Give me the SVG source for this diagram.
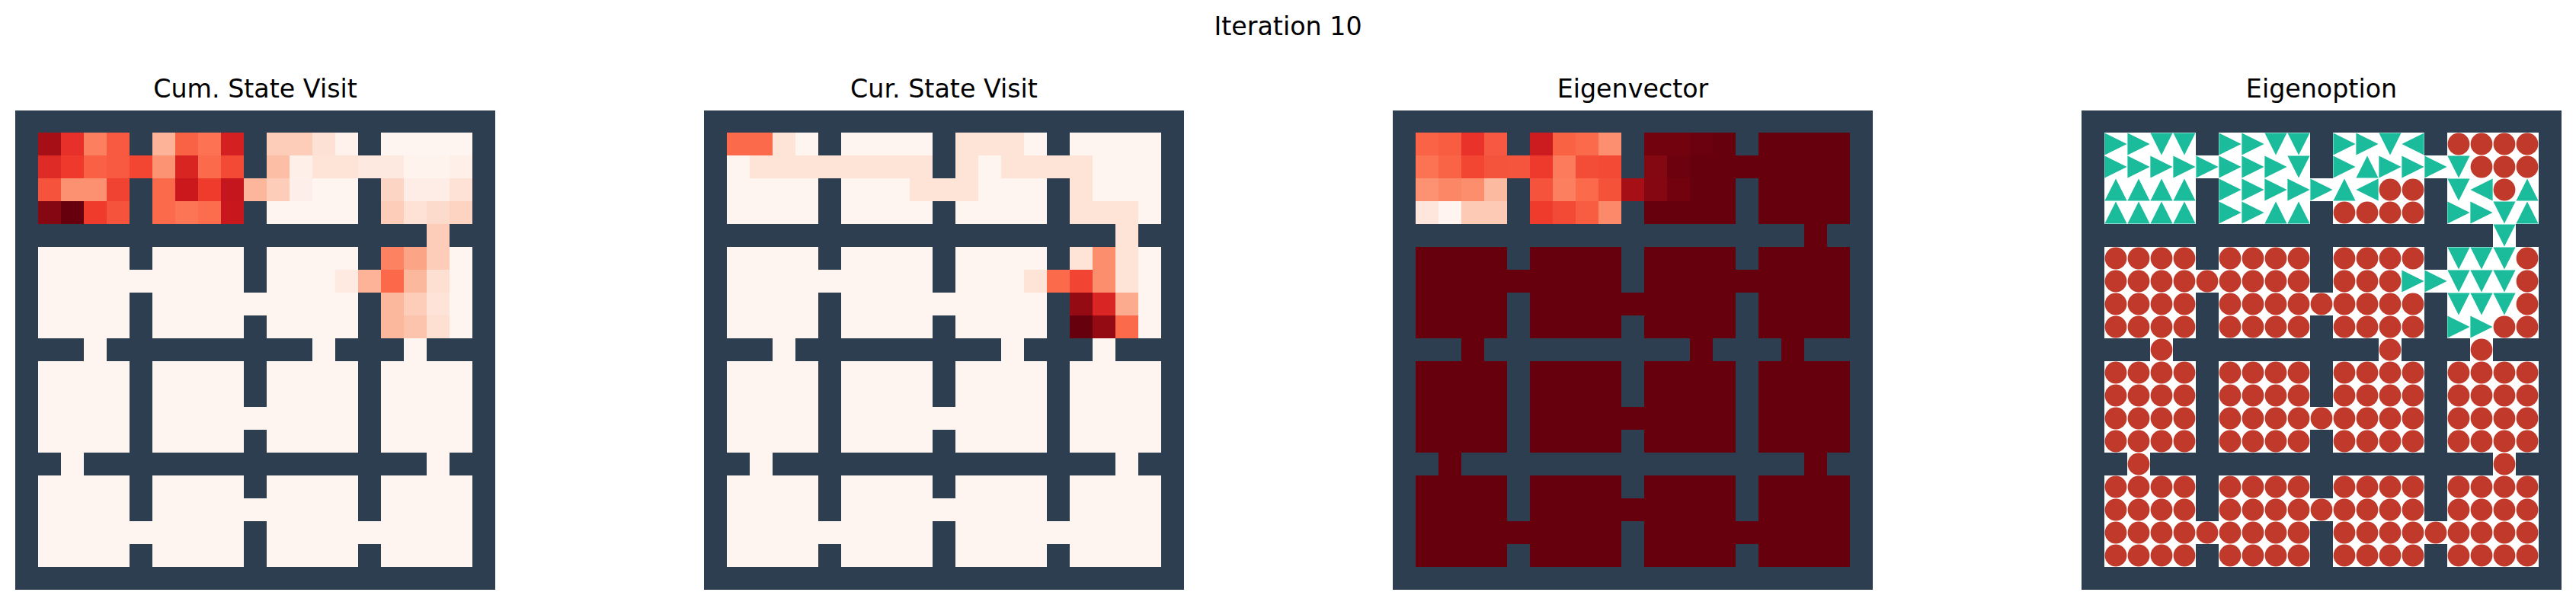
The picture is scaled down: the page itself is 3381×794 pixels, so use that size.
<svg xmlns="http://www.w3.org/2000/svg" xmlns:xlink="http://www.w3.org/1999/xlink" width="3381" height="794" viewBox="0 0 3381 794">
<style>
.wall{fill:#2C3E50}
.title{font-family:"DejaVu Sans","Liberation Sans",sans-serif;font-size:33.3px;fill:#000;text-anchor:middle}
.dots{fill:url(#dots)}
</style>
<defs>
<rect id="cell" width="30" height="30"/>
<path id="floor" d="M30,30h120v120h-120z M180,30h120v120h-120z M330,30h120v120h-120z M480,30h120v120h-120z M30,180h120v120h-120z M180,180h120v120h-120z M330,180h120v120h-120z M480,180h120v120h-120z M30,330h120v120h-120z M180,330h120v120h-120z M330,330h120v120h-120z M480,330h120v120h-120z M30,480h120v120h-120z M180,480h120v120h-120z M330,480h120v120h-120z M480,480h120v120h-120z M150,60h30v30h-30z M450,60h30v30h-30z M300,90h30v30h-30z M540,150h30v30h-30z M150,210h30v30h-30z M450,210h30v30h-30z M300,240h30v30h-30z M90,300h30v30h-30z M390,300h30v30h-30z M510,300h30v30h-30z M300,390h30v30h-30z M60,450h30v30h-30z M540,450h30v30h-30z M300,510h30v30h-30z M150,540h30v30h-30z M450,540h30v30h-30z"/>
<pattern id="dots" width="30" height="30" patternUnits="userSpaceOnUse"><circle cx="15" cy="15" r="14.4" fill="#C0392B"/></pattern>
<path id="R" d="M-14.6,-14.6L14.6,0L-14.6,14.6Z" fill="#1ABC9C"/>
<path id="L" d="M14.6,-14.6L-14.6,0L14.6,14.6Z" fill="#1ABC9C"/>
<path id="U" d="M0,-14.6L14.6,14.6L-14.6,14.6Z" fill="#1ABC9C"/>
<path id="D" d="M-14.6,-14.6L14.6,-14.6L0,14.6Z" fill="#1ABC9C"/>
</defs>
<rect width="3381" height="794" fill="#fff"/>
<text class="title" x="1690.5" y="45.5">Iteration 10</text>

<g id="cum-state-visit">
<text class="title" x="335" y="127.7">Cum. State Visit</text>
<g transform="translate(20,144)">
<rect class="wall" x="0" y="1" width="630" height="629"/>
<use href="#floor" fill="#FFF5F0"/>
<use href="#cell" x="30" y="30" fill="#A50F15"/><use href="#cell" x="60" y="30" fill="#E8302A"/><use href="#cell" x="90" y="30" fill="#FC7F5F"/><use href="#cell" x="120" y="30" fill="#F75A40"/>
<use href="#cell" x="180" y="30" fill="#FCB398"/><use href="#cell" x="210" y="30" fill="#F96245"/><use href="#cell" x="240" y="30" fill="#FC7252"/><use href="#cell" x="270" y="30" fill="#D42020"/>
<use href="#cell" x="330" y="30" fill="#FDCDB9"/><use href="#cell" x="360" y="30" fill="#FDCDB9"/><use href="#cell" x="390" y="30" fill="#FEE1D5"/><use href="#cell" x="420" y="30" fill="#FFF1EC"/>
<use href="#cell" x="30" y="60" fill="#DE2B25"/><use href="#cell" x="60" y="60" fill="#EE392C"/><use href="#cell" x="90" y="60" fill="#F96044"/><use href="#cell" x="120" y="60" fill="#F75A40"/><use href="#cell" x="150" y="60" fill="#F24632"/>
<use href="#cell" x="180" y="60" fill="#FC9474"/><use href="#cell" x="210" y="60" fill="#D92522"/><use href="#cell" x="240" y="60" fill="#FB6B4B"/><use href="#cell" x="270" y="60" fill="#F34A35"/>
<use href="#cell" x="330" y="60" fill="#FCBFA6"/><use href="#cell" x="360" y="60" fill="#FEF0E9"/><use href="#cell" x="390" y="60" fill="#FEE3D7"/><use href="#cell" x="420" y="60" fill="#FEE3D7"/><use href="#cell" x="450" y="60" fill="#FDE9E0"/>
<use href="#cell" x="480" y="60" fill="#FDE9E0"/><use href="#cell" x="510" y="60" fill="#FFF3EE"/><use href="#cell" x="540" y="60" fill="#FFF3EE"/><use href="#cell" x="570" y="60" fill="#FEEFE9"/>
<use href="#cell" x="30" y="90" fill="#F5533B"/><use href="#cell" x="60" y="90" fill="#FC9172"/><use href="#cell" x="90" y="90" fill="#FC9172"/><use href="#cell" x="120" y="90" fill="#F14331"/>
<use href="#cell" x="180" y="90" fill="#FB6A4A"/><use href="#cell" x="210" y="90" fill="#CB181D"/><use href="#cell" x="240" y="90" fill="#EF3B2C"/><use href="#cell" x="270" y="90" fill="#C4161C"/><use href="#cell" x="300" y="90" fill="#FCB69B"/>
<use href="#cell" x="330" y="90" fill="#FDCDB9"/><use href="#cell" x="360" y="90" fill="#FEEEE9"/>
<use href="#cell" x="480" y="90" fill="#FDD5C4"/><use href="#cell" x="510" y="90" fill="#FEEDE7"/><use href="#cell" x="540" y="90" fill="#FEEDE7"/><use href="#cell" x="570" y="90" fill="#FEE2D6"/>
<use href="#cell" x="30" y="120" fill="#840711"/><use href="#cell" x="60" y="120" fill="#67000D"/><use href="#cell" x="90" y="120" fill="#EF3B2C"/><use href="#cell" x="120" y="120" fill="#F5533B"/>
<use href="#cell" x="180" y="120" fill="#FB6A4A"/><use href="#cell" x="210" y="120" fill="#FC7555"/><use href="#cell" x="240" y="120" fill="#FB6D4D"/><use href="#cell" x="270" y="120" fill="#C9181D"/>
<use href="#cell" x="480" y="120" fill="#FDCDB9"/><use href="#cell" x="510" y="120" fill="#FEE2D6"/><use href="#cell" x="540" y="120" fill="#FDDBCC"/><use href="#cell" x="570" y="120" fill="#FDD4C2"/>
<use href="#cell" x="540" y="150" fill="#FDCDB9"/>
<use href="#cell" x="480" y="180" fill="#FC8262"/><use href="#cell" x="510" y="180" fill="#FCA486"/><use href="#cell" x="540" y="180" fill="#FDCDB9"/>
<use href="#cell" x="420" y="210" fill="#FEEAE1"/><use href="#cell" x="450" y="210" fill="#FCB398"/><use href="#cell" x="480" y="210" fill="#FB694A"/><use href="#cell" x="510" y="210" fill="#FCB89D"/><use href="#cell" x="540" y="210" fill="#FEE0D2"/>
<use href="#cell" x="480" y="240" fill="#FCB89D"/><use href="#cell" x="510" y="240" fill="#FDCDB9"/><use href="#cell" x="540" y="240" fill="#FEE4D8"/>
<use href="#cell" x="480" y="270" fill="#FCB89D"/><use href="#cell" x="510" y="270" fill="#FCC4AD"/><use href="#cell" x="540" y="270" fill="#FEE0D2"/>
</g>
</g>

<g id="cur-state-visit">
<text class="title" x="1239" y="127.7">Cur. State Visit</text>
<g transform="translate(924,144)">
<rect class="wall" x="0" y="1" width="630" height="629"/>
<use href="#floor" fill="#FFF5F0"/>
<g fill="#FEE3D7">
<rect x="90" y="30" width="30" height="30"/><rect x="330" y="30" width="90" height="30"/>
<rect x="60" y="60" width="240" height="30"/><rect x="330" y="60" width="30" height="30"/><rect x="390" y="60" width="120" height="30"/>
<rect x="270" y="90" width="90" height="30"/><rect x="480" y="90" width="30" height="30"/>
<rect x="480" y="120" width="90" height="30"/>
<rect x="540" y="150" width="30" height="30"/>
<rect x="480" y="180" width="30" height="30"/><rect x="540" y="180" width="30" height="30"/>
<rect x="420" y="210" width="30" height="30"/><rect x="540" y="210" width="30" height="30"/>
</g>
<use href="#cell" x="30" y="30" fill="#FB6A4A"/><use href="#cell" x="60" y="30" fill="#FB6A4A"/>
<use href="#cell" x="510" y="180" fill="#FC8D6D"/>
<use href="#cell" x="450" y="210" fill="#FB6A4A"/><use href="#cell" x="480" y="210" fill="#F14432"/><use href="#cell" x="510" y="210" fill="#FC8D6D"/>
<use href="#cell" x="480" y="240" fill="#940B13"/><use href="#cell" x="510" y="240" fill="#D92523"/><use href="#cell" x="540" y="240" fill="#FCAB8F"/>
<use href="#cell" x="480" y="270" fill="#67000D"/><use href="#cell" x="510" y="270" fill="#940B13"/><use href="#cell" x="540" y="270" fill="#FB6A4A"/>
</g>
</g>

<g id="eigenvector">
<text class="title" x="2143" y="127.7">Eigenvector</text>
<g transform="translate(1828,144)">
<rect class="wall" x="0" y="1" width="630" height="629"/>
<use href="#floor" fill="#67000D"/>
<use href="#cell" x="30" y="30" fill="#FB6347"/><use href="#cell" x="60" y="30" fill="#F85D42"/><use href="#cell" x="90" y="30" fill="#E8322A"/><use href="#cell" x="120" y="30" fill="#F75841"/>
<use href="#cell" x="180" y="30" fill="#CD1C1F"/><use href="#cell" x="210" y="30" fill="#FA6244"/><use href="#cell" x="240" y="30" fill="#FB6A4A"/><use href="#cell" x="270" y="30" fill="#FC8F6F"/>
<use href="#cell" x="330" y="30" fill="#71020E"/><use href="#cell" x="360" y="30" fill="#71020E"/><use href="#cell" x="390" y="30" fill="#6B010E"/>
<use href="#cell" x="30" y="60" fill="#FC7353"/><use href="#cell" x="60" y="60" fill="#F96447"/><use href="#cell" x="90" y="60" fill="#F24632"/><use href="#cell" x="120" y="60" fill="#F5543C"/><use href="#cell" x="150" y="60" fill="#F5553D"/>
<use href="#cell" x="180" y="60" fill="#EE3A2C"/><use href="#cell" x="210" y="60" fill="#FC7B5C"/><use href="#cell" x="240" y="60" fill="#F34C37"/><use href="#cell" x="270" y="60" fill="#F34A36"/>
<use href="#cell" x="330" y="60" fill="#830811"/><use href="#cell" x="360" y="60" fill="#6E010E"/>
<use href="#cell" x="30" y="90" fill="#FC9272"/><use href="#cell" x="60" y="90" fill="#FC8767"/><use href="#cell" x="90" y="90" fill="#FC8D6D"/><use href="#cell" x="120" y="90" fill="#FCBBA1"/>
<use href="#cell" x="180" y="90" fill="#F5533B"/><use href="#cell" x="210" y="90" fill="#FC8060"/><use href="#cell" x="240" y="90" fill="#FB6B4B"/><use href="#cell" x="270" y="90" fill="#F5523A"/><use href="#cell" x="300" y="90" fill="#A60F15"/>
<use href="#cell" x="330" y="90" fill="#840711"/><use href="#cell" x="360" y="90" fill="#71020E"/>
<use href="#cell" x="30" y="120" fill="#FEE6DC"/><use href="#cell" x="60" y="120" fill="#FFF4EF"/><use href="#cell" x="90" y="120" fill="#FDCAB5"/><use href="#cell" x="120" y="120" fill="#FDCAB6"/>
<use href="#cell" x="180" y="120" fill="#EF3B2C"/><use href="#cell" x="210" y="120" fill="#F34A36"/><use href="#cell" x="240" y="120" fill="#F85D42"/><use href="#cell" x="270" y="120" fill="#FC8A6A"/>
</g>
</g>

<g id="eigenoption">
<text class="title" x="3047" y="127.7">Eigenoption</text>
<g transform="translate(2732,144)">
<rect class="wall" x="0" y="1" width="630" height="629"/>
<use href="#floor" fill="#FFFFFF"/>
<g class="dots">
<rect x="480" y="30" width="120" height="30"/><rect x="510" y="60" width="90" height="30"/><rect x="390" y="90" width="60" height="30"/><rect x="540" y="90" width="30" height="30"/><rect x="330" y="120" width="120" height="30"/>
<rect x="30" y="180" width="120" height="120"/><rect x="180" y="180" width="120" height="120"/><rect x="150" y="210" width="30" height="30"/><rect x="300" y="240" width="30" height="30"/>
<rect x="330" y="180" width="120" height="30"/><rect x="330" y="210" width="90" height="30"/><rect x="330" y="240" width="120" height="60"/>
<rect x="570" y="180" width="30" height="90"/><rect x="540" y="270" width="60" height="30"/>
<rect x="90" y="300" width="30" height="30"/><rect x="390" y="300" width="30" height="30"/><rect x="510" y="300" width="30" height="30"/>
<rect x="30" y="330" width="120" height="120"/><rect x="180" y="330" width="120" height="120"/><rect x="330" y="330" width="120" height="120"/><rect x="480" y="330" width="120" height="120"/>
<rect x="300" y="390" width="30" height="30"/><rect x="60" y="450" width="30" height="30"/><rect x="540" y="450" width="30" height="30"/>
<rect x="30" y="480" width="120" height="120"/><rect x="180" y="480" width="120" height="120"/><rect x="330" y="480" width="120" height="120"/><rect x="480" y="480" width="120" height="120"/>
<rect x="300" y="510" width="30" height="30"/><rect x="150" y="540" width="30" height="30"/><rect x="450" y="540" width="30" height="30"/>
</g>
<use href="#R" x="45" y="45"/><use href="#R" x="75" y="45"/><use href="#D" x="105" y="45"/><use href="#D" x="135" y="45"/>
<use href="#R" x="195" y="45"/><use href="#R" x="225" y="45"/><use href="#D" x="255" y="45"/><use href="#D" x="285" y="45"/>
<use href="#R" x="345" y="45"/><use href="#R" x="375" y="45"/><use href="#D" x="405" y="45"/><use href="#L" x="435" y="45"/>
<use href="#R" x="45" y="75"/><use href="#R" x="75" y="75"/><use href="#R" x="105" y="75"/><use href="#R" x="135" y="75"/><use href="#R" x="165" y="75"/>
<use href="#R" x="195" y="75"/><use href="#R" x="225" y="75"/><use href="#R" x="255" y="75"/><use href="#D" x="285" y="75"/>
<use href="#R" x="345" y="75"/><use href="#U" x="375" y="75"/><use href="#R" x="405" y="75"/><use href="#R" x="435" y="75"/><use href="#R" x="465" y="75"/><use href="#D" x="495" y="75"/>
<use href="#U" x="45" y="105"/><use href="#U" x="75" y="105"/><use href="#U" x="105" y="105"/><use href="#U" x="135" y="105"/>
<use href="#R" x="195" y="105"/><use href="#R" x="225" y="105"/><use href="#R" x="255" y="105"/><use href="#R" x="285" y="105"/><use href="#R" x="315" y="105"/>
<use href="#U" x="345" y="105"/><use href="#L" x="375" y="105"/>
<use href="#D" x="495" y="105"/><use href="#L" x="525" y="105"/><use href="#U" x="585" y="105"/>
<use href="#U" x="45" y="135"/><use href="#U" x="75" y="135"/><use href="#U" x="105" y="135"/><use href="#U" x="135" y="135"/>
<use href="#R" x="195" y="135"/><use href="#R" x="225" y="135"/><use href="#U" x="255" y="135"/><use href="#U" x="285" y="135"/>
<use href="#R" x="495" y="135"/><use href="#R" x="525" y="135"/><use href="#D" x="555" y="135"/><use href="#U" x="585" y="135"/>
<use href="#D" x="555" y="165"/>
<use href="#D" x="495" y="195"/><use href="#D" x="525" y="195"/><use href="#D" x="555" y="195"/>
<use href="#R" x="435" y="225"/><use href="#R" x="465" y="225"/><use href="#D" x="495" y="225"/><use href="#D" x="525" y="225"/><use href="#D" x="555" y="225"/>
<use href="#D" x="495" y="255"/><use href="#D" x="525" y="255"/><use href="#D" x="555" y="255"/>
<use href="#R" x="495" y="285"/><use href="#R" x="525" y="285"/>
</g>
</g>
</svg>
